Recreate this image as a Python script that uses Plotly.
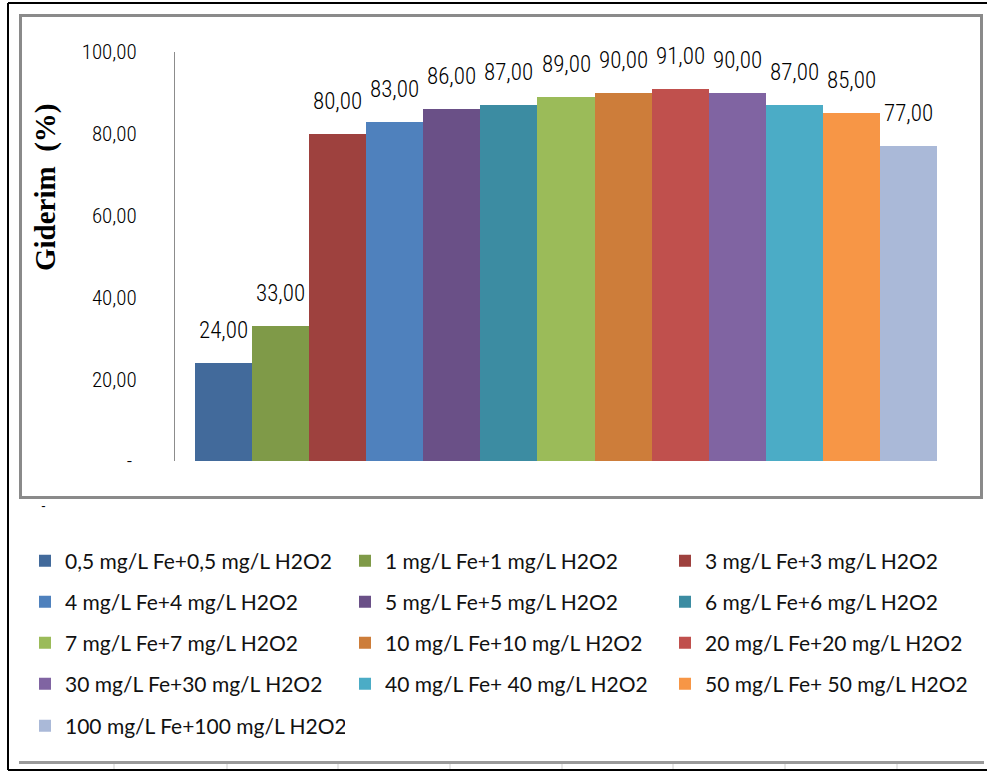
import plotly.graph_objects as go

# ---------------- data ----------------
labels = [
    "0,5 mg/L Fe+0,5 mg/L H2O2", "1 mg/L Fe+1 mg/L H2O2", "3 mg/L Fe+3 mg/L H2O2",
    "4 mg/L Fe+4 mg/L H2O2", "5 mg/L Fe+5 mg/L H2O2", "6 mg/L Fe+6 mg/L H2O2",
    "7 mg/L Fe+7 mg/L H2O2", "10 mg/L Fe+10 mg/L H2O2", "20 mg/L Fe+20 mg/L H2O2",
    "30 mg/L Fe+30 mg/L H2O2", "40 mg/L Fe+ 40 mg/L H2O2", "50 mg/L Fe+ 50 mg/L H2O2",
    "100 mg/L Fe+100 mg/L H2O2",
]
values = [24, 33, 80, 83, 86, 87, 89, 90, 91, 90, 87, 85, 77]
y_tickvals = [0, 20, 40, 60, 80, 100]
y_ticktext = ["-\u00a0", "20,00", "40,00", "60,00", "80,00", "100,00"]
y_title = "Giderim  (%)"

# ---------------- styles ----------------
colors = ["#426A9B", "#7F9A48", "#9E413E", "#4F81BD", "#6A5087", "#3C8CA2",
          "#9BBB59", "#CD7D3A", "#C0504D", "#8064A2", "#4BACC6", "#F79646", "#AAB9D8"]

W, H = 987, 772
L, R, T, B = 175, 30, 52, 311
PW, PH = W - L - R, H - T - B

def px(xp):
    return (xp - L) / PW

def py(yp):
    return (H - B - yp) / PH

NARROW = "Roboto Condensed, Liberation Sans Narrow, Arial Narrow, Liberation Sans"

fig = go.Figure()
for i, (lab, val, col) in enumerate(zip(labels, values, colors)):
    fig.add_trace(go.Bar(
        x=[lab], y=[val], name=lab,
        marker=dict(color=col, line=dict(width=0)),
        legend="legend" if i // 3 == 0 else f"legend{i // 3 + 1}",
        hoverinfo="x+y",
    ))
    fig.add_annotation(
        x=lab, y=val, text=f"{val:.2f}".replace(".", ","),
        showarrow=False, yanchor="bottom", yshift=17,
        font=dict(family=NARROW, size=23, color="#000000", weight=300),
    )

# legends: 5 rows of 3 columns
row_y = [561, 602, 643, 684, 726]
legend_common = dict(
    orientation="h", xanchor="left", yanchor="middle",
    font=dict(family="Lato", size=21, color="#111111"),
    entrywidth=275, entrywidthmode="pixels",
    bgcolor="rgba(0,0,0,0)", traceorder="normal",
)
legends = {}
for r, yv in enumerate(row_y):
    key = "legend" if r == 0 else f"legend{r + 1}"
    legends[key] = dict(legend_common, x=px(25), y=py(yv))

fig.update_layout(
    width=W, height=H,
    margin=dict(l=L, r=R, t=T, b=B),
    paper_bgcolor="white", plot_bgcolor="white",
    barmode="relative", bargap=0,
    showlegend=True,
    xaxis=dict(type="category", range=[-0.85, 12.85], showticklabels=False,
               showline=False, showgrid=False, zeroline=False, ticks=""),
    yaxis=dict(range=[0, 100], tickvals=y_tickvals, ticktext=y_ticktext,
               showgrid=False, zeroline=False, showline=True, linecolor="#8c8c8c",
               linewidth=1, ticks="", ticklabelstandoff=33,
               tickfont=dict(family=NARROW, size=21, color="#000000", weight=300)),
    **legends,
)

# y-axis title
fig.add_annotation(
    xref="paper", yref="paper", x=px(45), y=py(187), text=f"<b>{y_title}</b>",
    textangle=-90, showarrow=False, xanchor="center", yanchor="middle",
    font=dict(family="Liberation Serif", size=29, color="#000000"),
)
# stray dash
fig.add_annotation(
    xref="paper", yref="paper", x=px(39), y=py(516), text="-",
    showarrow=False, font=dict(family="Lato", size=13, color="#000000"),
)

# frames
def rect(x0, y0, x1, y1, color, width):
    fig.add_shape(type="rect", xref="paper", yref="paper",
                  x0=px(x0), x1=px(x1), y0=py(y0), y1=py(y1),
                  line=dict(color=color, width=width), fillcolor="rgba(0,0,0,0)", layer="below")

def line(x0, y0, x1, y1, color, width):
    fig.add_shape(type="line", xref="paper", yref="paper",
                  x0=px(x0), x1=px(x1), y0=py(y0), y1=py(y1),
                  line=dict(color=color, width=width))

rect(20.5, 15.5, 981.5, 497.5, "#8a8a8a", 3)
line(8, 3, 990, 3, "#000000", 2)
line(8, 3, 8, 770, "#000000", 2)
line(8, 770, 990, 770, "#000000", 2)
line(19, 762.5, 984, 762.5, "#9a9a9a", 3)
for xt in [114, 227, 338, 450, 562, 673, 785, 897]:
    line(xt, 764, xt, 769, "#d0d0d0", 1)

fig.write_html("out.html", config={"displayModeBar": False},
               post_script="document.body.style.margin='0';")
